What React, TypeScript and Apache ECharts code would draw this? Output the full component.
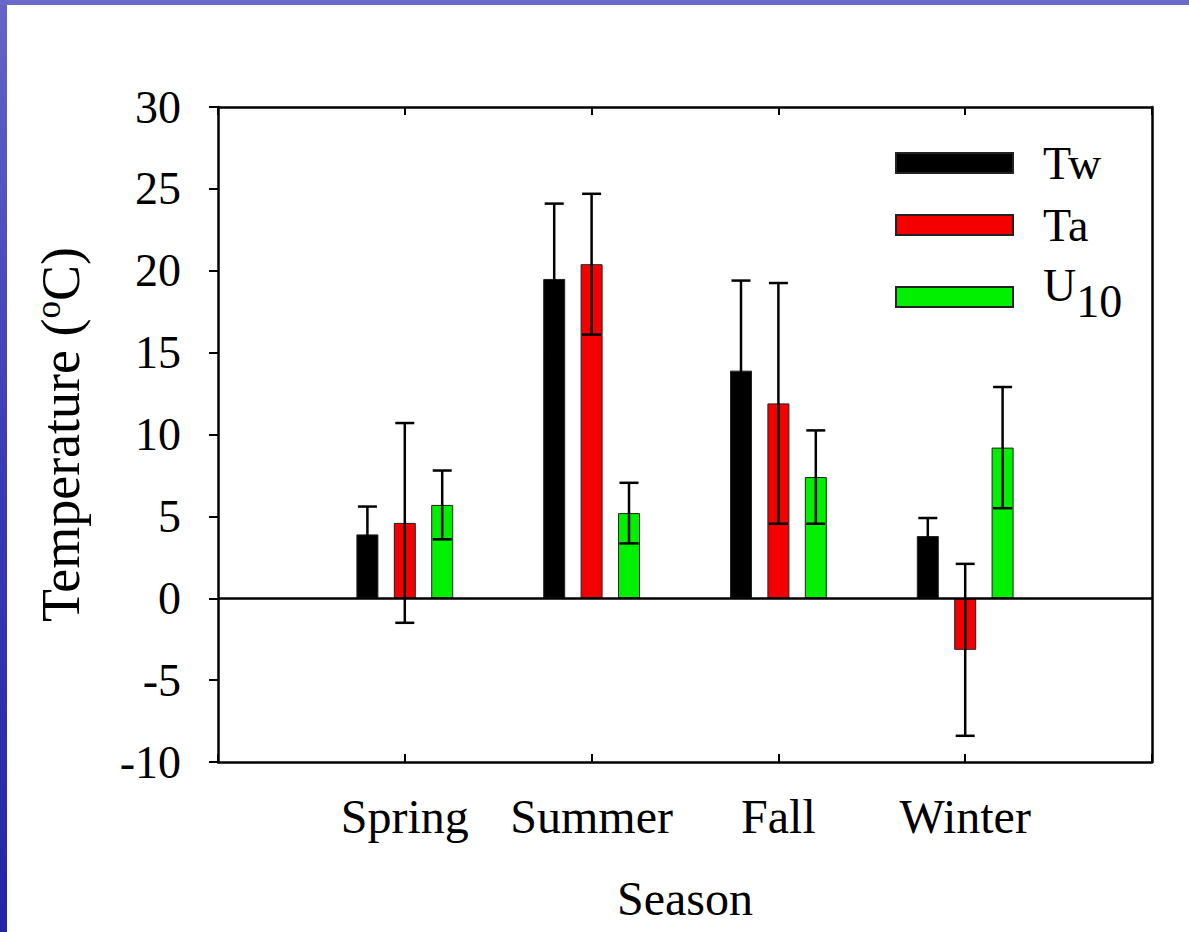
import React, { useEffect, useRef } from "react";
import * as echarts from "echarts";

const seasons = ["Spring", "Summer", "Fall", "Winter"];
const seriesNames = ["Tw", "Ta", "U10"];
const seriesColors = ["#000000", "#f40000", "#00f000"];
const twMean = [3.9, 19.5, 13.9, 3.8];
const twErr = [1.7, 4.6, 5.5, 1.1];
const taMean = [4.6, 20.4, 11.9, -3.15];
const taErr = [6.1, 4.3, 7.35, 5.25];
const u10Mean = [5.7, 5.2, 7.4, 9.2];
const u10Err = [2.1, 1.85, 2.85, 3.7];
const yMin = -10;
const yMax = 30;
const yStep = 5;

const FONT = "'Liberation Serif', 'Times New Roman', serif";
const BAR_WIDTH = 22;
const BAR_GAP = 0.7;

export default function App() {
  const ref = useRef<HTMLDivElement>(null);
  useEffect(() => {
    if (!ref.current) return;
    const chart = echarts.init(ref.current, undefined, { renderer: "svg" });
    const cats = ["", ...seasons, ""];
    const means = [twMean, taMean, u10Mean];
    const errs = [twErr, taErr, u10Err];
    const pad = (arr: number[]) => ["-", ...arr, "-"];
    const step = BAR_WIDTH * (1 + BAR_GAP);

    const barSeries = seriesNames.map((name, i) => ({
      name,
      type: "bar",
      data: pad(means[i]),
      barWidth: BAR_WIDTH,
      barGap: `${BAR_GAP * 100}%`,
      itemStyle: { color: seriesColors[i], borderColor: "#222", borderWidth: 1 },
      z: 3,
      ...(i === 0
        ? {
            markLine: {
              silent: true,
              symbol: ["none", "none"],
              label: { show: false },
              lineStyle: { color: "#000", width: 2.5, type: "solid" },
              data: [{ yAxis: 0 }],
            },
          }
        : {}),
    }));

    const errSeries = seriesNames.map((name, i) => ({
      name: name + " error",
      type: "custom",
      z: 10,
      encode: { x: 0, y: [1, 2] },
      data: means[i].map((m, k) => [k + 1, m - errs[i][k], m + errs[i][k]]),
      renderItem: (params: any, api: any) => {
        const c = api.value(0);
        const lo = api.coord([c, api.value(1)]);
        const hi = api.coord([c, api.value(2)]);
        const x = lo[0] + (i - 1) * step;
        const cap = 9.5;
        const st = { stroke: "#000", lineWidth: 2.5 };
        return {
          type: "group",
          children: [
            { type: "line", shape: { x1: x, y1: hi[1], x2: x, y2: lo[1] }, style: st },
            { type: "line", shape: { x1: x - cap, y1: hi[1], x2: x + cap, y2: hi[1] }, style: st },
            { type: "line", shape: { x1: x - cap, y1: lo[1], x2: x + cap, y2: lo[1] }, style: st },
          ],
        };
      },
    }));

    const legendTops = [140, 202, 262];
    const legendPads = [
      [0, 0, 0, 25],
      [0, 0, 0, 25],
      [0, 0, 50, 25],
    ];
    const legends = seriesNames.map((name, i) => ({
      data: [name],
      left: 895,
      top: legendTops[i],
      padding: 0,
      icon: "rect",
      itemWidth: 117,
      itemHeight: 20,
      selectedMode: false,
      formatter: (n: string) => (n === "U10" ? "{u|U}{s|10}" : n),
      textStyle: {
        fontFamily: FONT,
        fontSize: 46,
        lineHeight: 20,
        color: "#000",
        padding: legendPads[i],
        rich: {
          u: { fontFamily: FONT, fontSize: 46, lineHeight: 20, verticalAlign: "top", color: "#000" },
          s: {
            fontFamily: FONT,
            fontSize: 46,
            lineHeight: 20,
            verticalAlign: "top",
            padding: [16, 0, 0, 0],
            color: "#000",
          },
        },
      },
    }));

    const axisLine = { show: true, lineStyle: { color: "#000", width: 2.5 } };

    chart.setOption({
      animation: false,
      backgroundColor: "#ffffff",
      graphic: [
        {
          type: "rect",
          shape: { x: 0, y: 0, width: 7, height: 932 },
          style: {
            fill: new echarts.graphic.LinearGradient(0, 0, 0, 1, [
              { offset: 0, color: "#6464c8" },
              { offset: 0.5, color: "#3a3ab8" },
              { offset: 1, color: "#2424a8" },
            ]),
          },
          silent: true,
        },
        {
          type: "rect",
          shape: { x: 0, y: 0, width: 1189, height: 5 },
          style: { fill: "#6a6acb" },
          silent: true,
        },
      ],
      grid: { left: 218, right: 37, top: 107, bottom: 170, containLabel: false },
      legend: legends,
      xAxis: [
        {
          type: "category",
          position: "bottom",
          data: cats,
          boundaryGap: false,
          axisLine: { ...axisLine, onZero: false },
          axisTick: { show: true, inside: true, length: 8, lineStyle: { color: "#000", width: 2 } },
          axisLabel: { fontFamily: FONT, fontSize: 48, color: "#000", margin: 30, interval: 0 },
          splitLine: { show: false },
          name: "Season",
          nameLocation: "middle",
          nameGap: 112,
          nameTextStyle: { fontFamily: FONT, fontSize: 48, color: "#000" },
        },
        {
          type: "category",
          position: "top",
          data: cats,
          boundaryGap: false,
          axisLine: { ...axisLine, onZero: false },
          axisTick: { show: true, inside: true, length: 8, lineStyle: { color: "#000", width: 2 } },
          axisLabel: { show: false },
          splitLine: { show: false },
        },
      ],
      yAxis: [
        {
          type: "value",
          position: "left",
          min: yMin,
          max: yMax,
          interval: yStep,
          axisLine,
          axisTick: { show: true, inside: false, length: 9, lineStyle: { color: "#000", width: 2 } },
          axisLabel: { fontFamily: FONT, fontSize: 46, color: "#000", margin: 37 },
          splitLine: { show: false },
          name: "{a|Temperature (}{b|o}{a|C)}",
          nameLocation: "middle",
          nameGap: 127,
          nameTextStyle: {
            fontFamily: FONT,
            fontSize: 54,
            color: "#000",
            rich: {
              a: { fontFamily: FONT, fontSize: 54, color: "#000", lineHeight: 60, verticalAlign: "middle" },
              b: { fontFamily: FONT, fontSize: 35, color: "#000", lineHeight: 60, verticalAlign: "top" },
            },
          },
        },
        {
          type: "value",
          position: "right",
          min: yMin,
          max: yMax,
          interval: yStep,
          axisLine,
          axisTick: { show: false },
          axisLabel: { show: false },
          splitLine: { show: false },
        },
      ],
      series: [...barSeries, ...errSeries],
    });
    return () => chart.dispose();
  }, []);
  return (
    <div
      ref={ref}
      style={{ position: "absolute", left: 0, top: 0, width: 1189, height: 932, background: "#fff" }}
    />
  );
}
